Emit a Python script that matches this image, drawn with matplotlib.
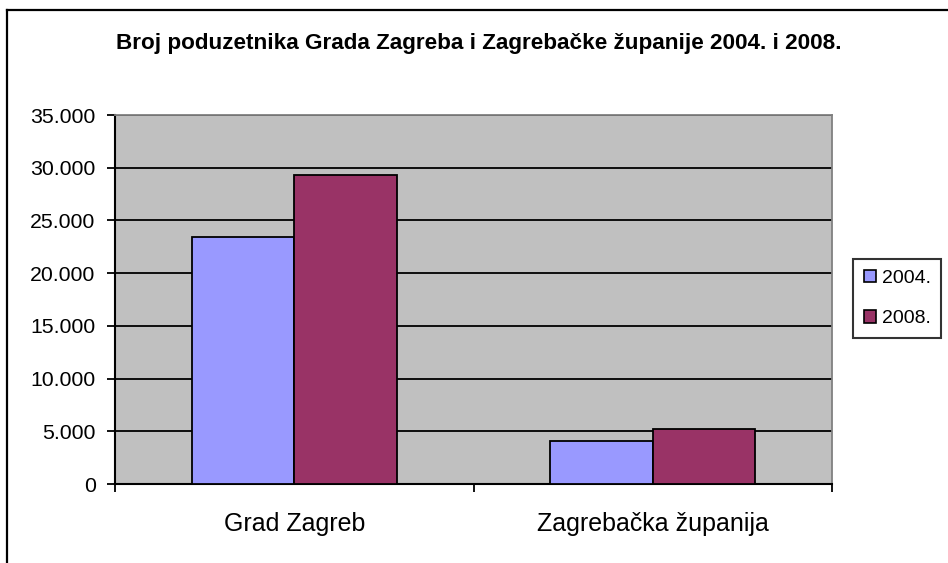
import matplotlib
matplotlib.use("Agg")
import matplotlib.pyplot as plt
import numpy as np
from matplotlib.patches import Patch
from matplotlib.lines import Line2D

categories = ["Grad Zagreb", "Zagrebačka županija"]
series_names = ["2004.", "2008."]
values_2004 = [23450, 4100]
values_2008 = [29300, 5200]
y_ticks = [0, 5000, 10000, 15000, 20000, 25000, 30000, 35000]
y_tick_labels = ["0", "5.000", "10.000", "15.000", "20.000", "25.000", "30.000", "35.000"]
title = "Broj poduzetnika Grada Zagreba i Zagrebačke županije 2004. i 2008."
colors = ["#9999FF", "#993366"]

plt.rcParams['font.family'] = ['Liberation Sans', 'DejaVu Sans']

W, H = 948, 563
fig = plt.figure(figsize=(W / 100, H / 100), dpi=100)
fig.patch.set_facecolor("white")

ax = fig.add_axes([115 / W, 1 - 484 / H, (832 - 115) / W, (484 - 115) / H])
ax.set_facecolor("#C0C0C0")

x = np.arange(len(categories))
bw = 1 / 3.5
ax.bar(x - bw / 2, values_2004, width=bw, color=colors[0], edgecolor="black", linewidth=1.3, zorder=3)
ax.bar(x + bw / 2, values_2008, width=bw, color=colors[1], edgecolor="black", linewidth=1.3, zorder=3)

ax.set_xlim(-0.5, 1.5)
ax.set_ylim(0, 35000)
ax.set_yticks(y_ticks)
ax.set_yticklabels(y_tick_labels, fontsize=15.3)
ax.yaxis.grid(True, color="black", linewidth=1.3, zorder=1)
ax.set_axisbelow(True)

ax.set_xticks([-0.5, 0.5, 1.5])
ax.set_xticklabels([])
ax.set_xticks(x, minor=True)
ax.set_xticklabels(categories, minor=True, fontsize=18)
ax.tick_params(axis="x", which="minor", length=0, pad=20)
ax.tick_params(axis="x", which="major", length=6, width=1.3, direction="out")
ax.tick_params(axis="y", length=6, width=1.3, direction="out", pad=8)

for s in ["left", "bottom"]:
    ax.spines[s].set_color("black")
    ax.spines[s].set_linewidth(1.5)
for s in ["top", "right"]:
    ax.spines[s].set_color("#808080")
    ax.spines[s].set_linewidth(1.3)

fig.text(479 / W, 1 - 43 / H, title, ha="center", va="center", fontsize=16.2, fontweight="bold")

handles = [Patch(facecolor=c, edgecolor="black", linewidth=1.2) for c in colors]
leg = fig.legend(handles, series_names, loc="upper left", bbox_to_anchor=(853 / W, 1 - 259 / H),
                 fontsize=14, frameon=True, fancybox=False, handlelength=0.62, handleheight=0.62,
                 handletextpad=0.3, borderpad=0.55, labelspacing=1.2, borderaxespad=0)
leg.get_frame().set_edgecolor("black")
leg.get_frame().set_linewidth(1.5)

# outer chart frame (left and top visible)
fig.add_artist(Line2D([7 / W, 7 / W], [0, 1 - 10 / H], color="black", linewidth=1.6))
fig.add_artist(Line2D([7 / W, 1], [1 - 10 / H, 1 - 10 / H], color="black", linewidth=1.6))

fig.savefig("out.png", dpi=100)
